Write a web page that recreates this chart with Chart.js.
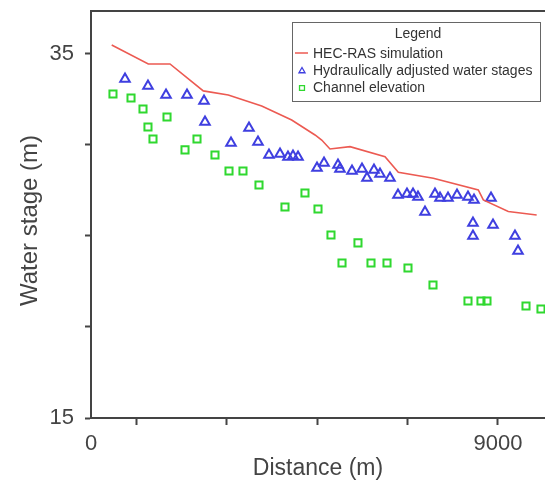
<!DOCTYPE html>
<html><head><meta charset="utf-8">
<script src="https://cdn.jsdelivr.net/npm/chart.js@4/dist/chart.umd.min.js"></script>
<style>html,body{margin:0;padding:0;background:#fff}#wrap{width:545px;height:482px}</style>
</head><body><div id="wrap"><canvas id="c" width="545" height="482"></canvas></div>
<script>
// HEC-RAS simulation (line)
const simX = [458, 1267, 1747, 2483, 3036, 3775, 4438, 4954, 5102, 5285, 5728, 6502, 6796, 7570, 8565, 8676, 9228, 9856];
const simY = [35.49, 34.45, 34.45, 32.97, 32.75, 32.14, 31.37, 30.55, 30.27, 29.78, 29.91, 29.36, 28.50, 28.17, 27.53, 26.98, 26.34, 26.15];
// Hydraulically adjusted water stages (triangles)
const adjX = [752, 1260, 1659, 2123, 2499, 2521, 3096, 3494, 3693, 3936, 4180, 4356, 4467, 4578, 4998, 5153, 5462, 5506, 5772, 5993, 6103, 6258, 6391, 6612, 6789, 6988, 7121, 7231, 7386, 7607, 7718, 7895, 8094, 8337, 8470, 8846, 8447, 8447, 8890, 9376, 9443];
const adjY = [33.63, 33.24, 32.75, 32.75, 32.42, 31.26, 30.11, 30.93, 30.16, 29.45, 29.51, 29.34, 29.40, 29.34, 28.74, 29.01, 28.90, 28.68, 28.57, 28.68, 28.19, 28.63, 28.41, 28.19, 27.25, 27.31, 27.31, 27.14, 26.32, 27.31, 27.09, 27.09, 27.25, 27.14, 26.98, 27.09, 25.71, 25.00, 25.60, 25.00, 24.18];
// Channel elevation (squares)
const chanX = [486, 885, 1150, 1681, 1260, 1371, 2079, 2344, 2742, 3052, 3361, 3715, 4290, 4732, 5020, 5307, 5551, 5904, 6192, 6546, 7010, 7563, 8337, 8624, 8757, 9620, 9951];
const chanY = [32.80, 32.58, 31.98, 31.54, 30.99, 30.33, 29.73, 30.33, 29.45, 28.57, 28.57, 27.80, 26.59, 27.36, 26.48, 25.05, 23.52, 24.62, 23.52, 23.52, 23.24, 22.31, 21.43, 21.43, 21.43, 21.15, 20.99];

const xTickValues = [0, 1000, 3000, 5000, 7000, 9000];
const xTickLabels = {0: '0', 9000: '9000'};
const yTickValues = [15, 20, 25, 30, 35];
const yTickLabels = {15: '15', 35: '35'};
const seriesNames = ['HEC-RAS simulation', 'Hydraulically adjusted water stages', 'Channel elevation'];

const zip = (xs, ys) => xs.map((x, i) => ({x, y: ys[i]}));
const RED = '#ec5a52', BLUE = '#3f3fe0', GREEN = '#2fd82f', AX = '#444';
const FONT = "'Liberation Sans', Arial, sans-serif";
const noPad = s => { s.paddingTop = 0; s.paddingBottom = 0; s.paddingLeft = 0; s.paddingRight = 0; };

const framePlugin = {
  id: 'frame',
  afterDraw(chart) {
    const {ctx, chartArea: a} = chart;
    ctx.save();
    ctx.strokeStyle = AX; ctx.lineWidth = 2;
    ctx.beginPath(); ctx.moveTo(a.left - 1, a.top); ctx.lineTo(a.right, a.top); ctx.stroke();
    // legend box
    const bx = 292, by = 22, bw = 248, bh = 79;
    ctx.fillStyle = '#fff'; ctx.fillRect(bx, by, bw, bh);
    ctx.strokeStyle = '#666'; ctx.lineWidth = 1;
    ctx.strokeRect(bx + 0.5, by + 0.5, bw, bh);
    ctx.fillStyle = '#333'; ctx.font = '14px ' + FONT;
    ctx.textAlign = 'center'; ctx.textBaseline = 'middle';
    ctx.fillText('Legend', bx + bw / 2 + 2, by + 12);
    ctx.textAlign = 'left';
    const rows = [53, 70, 87];
    const mx = 302, tx = 313;
    ctx.strokeStyle = RED; ctx.lineWidth = 1.5;
    ctx.beginPath(); ctx.moveTo(mx - 7, rows[0]); ctx.lineTo(mx + 6, rows[0]); ctx.stroke();
    ctx.fillStyle = 'rgba(0,0,0,0)';
    ctx.strokeStyle = BLUE; ctx.lineWidth = 1.3;
    Chart.helpers.drawPoint(ctx, {pointStyle: 'triangle', radius: 3.5, rotation: 0, borderWidth: 1.3}, mx, rows[1] + 1);
    ctx.strokeStyle = GREEN;
    Chart.helpers.drawPoint(ctx, {pointStyle: 'rect', radius: 3.5, rotation: 0, borderWidth: 1.3}, mx, rows[2] + 1);
    ctx.fillStyle = '#333';
    seriesNames.forEach((n, i) => ctx.fillText(n, tx, rows[i] + 1));
    ctx.restore();
  }
};

new Chart(document.getElementById('c'), {
  type: 'scatter',
  data: {
    datasets: [
      {label: seriesNames[0], data: zip(simX, simY), showLine: true, borderColor: RED, borderWidth: 1.6, pointRadius: 0, tension: 0, clip: false},
      {label: seriesNames[1], data: zip(adjX, adjY), pointStyle: 'triangle', pointRadius: 5.5, borderColor: BLUE, backgroundColor: 'transparent', pointBorderWidth: 2},
      {label: seriesNames[2], data: zip(chanX, chanY), pointStyle: 'rect', pointRadius: 5, borderColor: GREEN, backgroundColor: 'transparent', pointBorderWidth: 2}
    ]
  },
  options: {
    responsive: false, animation: false,
    layout: {autoPadding: false, padding: {top: 11, right: 0, left: 0, bottom: 0}},
    plugins: {legend: {display: false}, tooltip: {enabled: false}},
    scales: {
      x: {
        type: 'linear', min: 0, max: 10040,
        afterBuildTicks: s => { s.ticks = xTickValues.map(v => ({value: v})); },
        afterFit: s => { s.height = 64; noPad(s); },
        grid: {drawOnChartArea: false, tickLength: 7, tickWidth: 2, tickColor: c => (c.tick && c.tick.value === 0) ? 'rgba(0,0,0,0)' : AX},
        border: {color: AX, width: 2},
        ticks: {autoSkip: false, maxRotation: 0, padding: 6, color: '#444', font: {family: FONT, size: 22}, callback: v => xTickLabels[v] ?? ''},
        title: {display: true, text: 'Distance (m)', color: '#444', font: {family: FONT, size: 23}, padding: {top: 0, bottom: 0}}
      },
      y: {
        type: 'linear', min: 15, max: 37.36,
        afterBuildTicks: s => { s.ticks = yTickValues.map(v => ({value: v})); },
        afterFit: s => { s.width = 91; noPad(s); },
        grid: {drawOnChartArea: false, tickLength: 6, tickWidth: 2, tickColor: AX},
        border: {color: AX, width: 2},
        ticks: {autoSkip: false, padding: 11, color: '#444', font: {family: FONT, size: 22}, callback: v => yTickLabels[v] ?? ''},
        title: {display: true, text: 'Water stage (m)\u2002', color: '#444', font: {family: FONT, size: 24}, padding: {top: 16, bottom: 0}}
      }
    }
  },
  plugins: [framePlugin]
});
</script></body></html>
